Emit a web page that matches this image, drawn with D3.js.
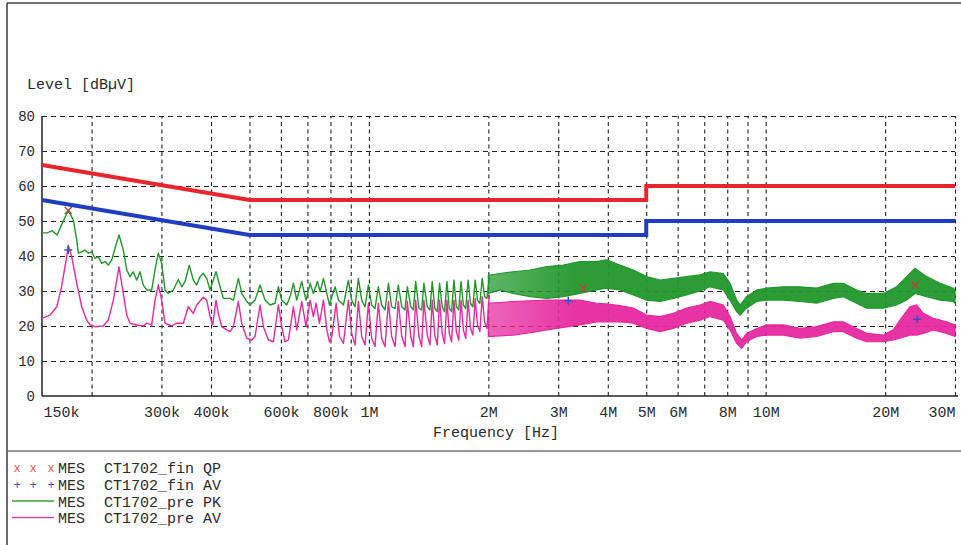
<!DOCTYPE html>
<html><head><meta charset="utf-8">
<script src="https://cdn.jsdelivr.net/npm/d3@7"></script>
<style>
html,body{margin:0;padding:0;background:#fff;}
svg{display:block;}
text{font-family:"Liberation Mono","DejaVu Sans Mono",monospace;fill:#2a2a2a;}
</style></head><body>
<svg id="c" width="961" height="545"></svg>
<script>
// ---------- data ----------
const yTicks = [0,10,20,30,40,50,60,70,80];
const yGrid = [10,20,30,40,50,60,70,80];
const xGridFreqs = [200e3,300e3,400e3,500e3,600e3,700e3,800e3,900e3,1e6,2e6,3e6,4e6,5e6,6e6,7e6,8e6,9e6,10e6,20e6,30e6];
const xLabelFreqs = [150e3,300e3,400e3,600e3,800e3,1e6,2e6,3e6,4e6,5e6,6e6,8e6,10e6,20e6,30e6];
const xLabelTexts = ["150k","300k","400k","600k","800k","1M","2M","3M","4M","5M","6M","8M","10M","20M","30M"];

// limit lines [Hz, dBuV]
const qpLimit = [[150e3,66],[500e3,56],[5e6,56],[5e6,60],[30e6,60]];
const avLimit = [[150e3,56],[500e3,46],[5e6,46],[5e6,50],[30e6,50]];

// pre-scan peak trace, 150 kHz .. 2 MHz  [kHz, dBuV]
const pkTrace = [[150,46.6],[154.4,46.6],[159,47.2],[163.7,46],[168,48.9],[174.7,53],[179.9,50.3],[183.5,44.6],[185.2,40.8],[188.9,41.2],
[192.5,41.7],[196.3,40.8],[200.2,41.2],[204,39.3],[208,39.8],[212.2,37.9],[216.3,38.4],[220.4,37.4],[224.9,38.9],[229.1,42.2],
[234.5,46],[240.4,41.7],[245.3,36],[250,34.1],[254.8,35.5],[259.9,33.1],[264.9,35.5],[270,31.7],[275.4,30.3],[283.5,30.3],
[289,36],[294.6,40.8],[300.5,37.9],[306.3,30.3],[312.2,29.3],[321.4,30.3],[330.9,33.3],[337.5,31.2],[344,32.7],[352.6,37.4],
[360.9,33.1],[368.1,31.7],[375.3,34.1],[382.5,35],[390.2,33.6],[397.7,30.3],[411.8,35.5],[421.5,31.2],[429.6,27.9],
[446.7,27.9],[455.4,27.4],[468.8,33.6],[478,29.3],[492.1,27.0],[501.7,26.0],[516.5,27.4],[531.7,31.7],[547.4,27.4],[563.5,26.0],
[580.1,26.5],[591.4,31.2],[603,27.4],[620.7,26.0],[632.9,28.4],[645.2,32.2],[657.8,27.4],[677.2,32.7],[694.3,27.4],[710.8,32.2],
[724.6,29.3],[741.7,32.7],[753.5,29.8],[768.2,33.6],[783.2,29.3],[795.5,26.0],[806.4,28.4],[822.2,31.2],[838.2,27.4],[862.7,26.0],
[887.7,33.1],[905,27.4],[922.7,25.5],[940.7,33.6],[959.1,27.4],[977.8,25.5],[996.9,31.7],[1016,26.0],[1036,25.0],[1056,31.2],
[1077,26.0],[1098,24.6],[1120,32.2],[1141,25.5],[1164,25.0],[1186,31.7],[1210,25.5],[1233,24.6],[1250,31.2],[1275,25.5],
[1294,24.6],[1312,32.7],[1337,25.0],[1358,24.6],[1376,32.2],[1403,25.5],[1425,24.6],[1444,32.7],[1466,25.0],[1487,24.1],
[1507,32.2],[1530,25.5],[1551,24.1],[1573,32.7],[1594,25.0],[1616,24.1],[1638,33.1],[1661,25.5],[1684,24.6],[1707,32.7],
[1730,26.0],[1754,25.0],[1778,33.1],[1803,26.5],[1828,25.5],[1853,33.1],[1878,27.4],[1904,26.5],[1930,33.6],[1957,28.4],
[1984,27.9],[2011,34.1]];

// pre-scan average trace, 150 kHz .. 2 MHz  [kHz, dBuV]
const avTrace = [[150,22.2],[157.1,23.1],[163.4,25.5],[168,31.2],[173.1,39.8],[174.7,43.1],[178.2,39.8],[183.5,32.2],[188.9,25.5],[194.4,21.7],
[198.2,20.3],[204,19.8],[214.1,20],[220.4,21.7],[226.9,27.4],[234.5,36.9],[240.4,29.3],[245.3,23.1],[250,20.8],[259.9,20.3],
[270,20],[275.4,20.8],[283.5,20.3],[289,27.4],[294.6,31.7],[300.5,27.4],[306.3,20.8],[318.4,20],[327.8,20.8],[340.6,20.8],
[350.6,25.5],[360.9,23.6],[368.1,26],[382.5,28.2],[390.2,27.4],[397.7,22.7],[404,20.3],[411.8,27.4],[417.3,23.6],[425.7,19.8],
[438.2,18.9],[446.7,18.4],[455.4,19.8],[468.8,27.0],[478,20.8],[492.1,16.5],[506.6,16.0],[516.5,17.0],[531.7,26.0],[542.1,19.8],
[558.1,16.0],[574.5,15.5],[591.4,26.0],[603,19.8],[614.7,15.5],[626.8,16.0],[645.2,25.5],[657.8,18.9],[677.2,27.0],[694.3,19.8],
[710.8,27.4],[724.6,22.7],[736,26.5],[750.6,20.8],[768.2,27.4],[783.2,18.9],[795.5,15.5],[806.4,17.0],[826.9,26.5],[843.1,17.0],
[862.7,15.0],[887.7,27.4],[905,17.9],[922.7,14.6],[940.7,27.0],[959.1,17.0],[977.8,14.6],[996.9,26.5],[1016,16.5],[1036,14.1],
[1056,26.5],[1077,16.5],[1098,14.1],[1120,27.0],[1141,17.0],[1164,14.1],[1186,27.0],[1210,17.0],[1233,14.1],[1250,27.0],
[1275,17.0],[1294,14.1],[1312,27.4],[1337,17.0],[1358,14.1],[1376,27.4],[1403,17.4],[1425,14.6],[1444,27.4],[1466,17.4],
[1487,14.6],[1507,27.4],[1530,17.9],[1551,15.0],[1573,27.4],[1594,17.9],[1616,15.5],[1638,27.4],[1661,18.4],[1684,16.0],
[1707,27.4],[1730,18.9],[1754,16.5],[1778,27.4],[1803,19.3],[1828,17.4],[1853,27.9],[1878,20.3],[1904,18.4],[1930,28.4],
[1957,21.2],[1984,19.3],[2011,28.9]];

// dense region 2 MHz .. 30 MHz: envelope [MHz, upper dBuV, lower dBuV]
const pkBand = [[2.0,34.5,29.3],[2.14,35.0,30.3],[2.31,35.5,29.3],[2.55,36.0,28.4],[2.81,37.0,27.9],[3.09,37.4,28.4],[3.40,38.4,29.3],[3.75,38.4,30.3],
[3.97,38.9,30.8],[4.29,37.4,30.3],[4.64,36.0,28.9],[5.01,34.1,27.4],[5.42,33.1,27.0],[5.85,33.6,27.9],[6.32,34.1,28.9],[6.83,34.6,30.0],
[7.24,35.5,31.2],[7.82,35.0,30.3],[8.13,32.2,27.4],[8.45,27.4,24.1],[8.62,26.0,23.1],[8.95,28.4,25.1],[9.49,30.3,27.0],[10.06,30.8,27.4],
[11.08,31.2,27.4],[12.2,31.2,27.0],[13.44,30.8,26.5],[14.81,32.2,27.9],[15.69,32.2,28.4],[16.95,30.3,26.5],[17.97,29.3,25.1],[19.8,29.3,25.1],
[21.38,31.2,26.0],[22.66,34.1,27.4],[23.78,36.5,29.3],[25.45,34.1,28.4],[27.5,32.2,27.4],[29.71,30.8,27.0],[30,30.3,26.5]];
const avBand = [[2.0,26.5,17.0],[2.14,26.7,17.2],[2.31,27.0,17.4],[2.55,27.2,18.1],[2.81,27.4,18.9],[3.09,27.4,19.6],[3.40,27.4,20.3],[3.75,26.5,21.2],
[3.97,26.3,21.2],[4.29,25.8,21.2],[4.64,25.1,20.8],[5.01,23.1,19.3],[5.42,22.7,18.4],[5.85,23.6,19.3],[6.32,25.1,20.8],[6.83,26.0,21.7],
[7.24,27.0,22.7],[7.82,26.0,21.7],[8.13,22.7,18.9],[8.45,17.9,15.0],[8.70,16.0,13.6],[8.95,17.9,15.5],[9.49,19.3,17.0],[10.06,20.3,17.4],
[11.08,20.3,17.4],[12.2,19.3,16.5],[13.44,19.8,17.0],[14.81,21.2,18.4],[15.69,21.2,18.4],[16.95,19.3,16.5],[17.97,17.9,15.5],[19.8,17.4,15.5],
[20.97,18.9,16.0],[21.8,21.7,16.5],[23.1,25.5,17.4],[24.01,26.0,17.4],[24.96,23.6,17.9],[26.45,22.2,18.9],[28.57,21.2,17.9],[30,20.3,17.0]];

// final measurement points
const qpFreq = [174.7e3,3.47e6,23.8e6];
const qpLevel = [53,30.8,31.7];
const avFreq = [174.7e3,3.18e6,24.1e6];
const avLevel = [41.7,27.2,21.9];

// legend
const legendMarks = ["x","+","line","line"];
const legendNames = ["CT1702_fin QP","CT1702_fin AV","CT1702_pre PK","CT1702_pre AV"];

// ---------- drawing ----------
const C = {red:"#e8252d", blue:"#1f3dc2", green:"#21972a", mag:"#e6299f", grid:"#222", frame:"#444"};
const svg = d3.select("#c");
const x = d3.scaleLog().domain([150e3,30e6]).range([42,955]);
const y = d3.scaleLinear().domain([0,80]).range([396,116]);

// band fills: spiky (lighter) near 2-3 MHz, denser above
const defs = svg.append("defs");
function bandGrad(id,color){
  const g = defs.append("linearGradient").attr("id",id).attr("gradientUnits","userSpaceOnUse")
    .attr("x1",x(2e6)).attr("x2",x(30e6)).attr("y1",0).attr("y2",0);
  const span = x(30e6)-x(2e6);
  g.append("stop").attr("offset",0).attr("stop-color",color).attr("stop-opacity",0.72);
  g.append("stop").attr("offset",(x(3.3e6)-x(2e6))/span).attr("stop-color",color).attr("stop-opacity",0.95);
  g.append("stop").attr("offset",1).attr("stop-color",color).attr("stop-opacity",0.95);
}
bandGrad("gpk",C.green); bandGrad("gav",C.mag);

// frame
svg.append("line").attr("x1",7).attr("y1",3).attr("x2",961).attr("y2",3).attr("stroke",C.frame).attr("stroke-width",1.6);
svg.append("line").attr("x1",7).attr("y1",3).attr("x2",7).attr("y2",545).attr("stroke",C.frame).attr("stroke-width",1.6);
svg.append("line").attr("x1",7).attr("y1",451).attr("x2",961).attr("y2",451).attr("stroke","#777").attr("stroke-width",1.6);

// grid
const gx = svg.append("g").attr("transform",`translate(0,${y(0)})`)
  .call(d3.axisBottom(x).tickValues(xGridFreqs).tickSize(-(y(0)-y(80))).tickFormat(""));
gx.select(".domain").remove();
gx.selectAll("line").attr("stroke",C.grid).attr("stroke-width",1.1).attr("stroke-dasharray","4,3.5");
const gy = svg.append("g").attr("transform",`translate(${x(150e3)},0)`)
  .call(d3.axisLeft(y).tickValues(yGrid).tickSize(-(x(30e6)-x(150e3))).tickFormat(""));
gy.select(".domain").remove();
gy.selectAll("line").attr("stroke",C.grid).attr("stroke-width",1.1).attr("stroke-dasharray","5,4");

// axis lines
svg.append("line").attr("x1",x(150e3)).attr("x2",x(30e6)+3).attr("y1",y(0)).attr("y2",y(0)).attr("stroke","#222").attr("stroke-width",1.5);
svg.append("line").attr("x1",x(150e3)).attr("x2",x(150e3)).attr("y1",y(0)).attr("y2",y(80)).attr("stroke","#222").attr("stroke-width",1.5);

// tick labels
const ay = svg.append("g").attr("transform",`translate(${x(150e3)},0)`)
  .call(d3.axisLeft(y).tickValues(yTicks).tickSize(0).tickPadding(7));
ay.select(".domain").remove();
ay.selectAll("text").style("font-size","14px").attr("fill","#2a2a2a");
const ax = svg.append("g").attr("transform",`translate(0,${y(0)})`)
  .call(d3.axisBottom(x).tickValues(xLabelFreqs).tickFormat((d,i)=>xLabelTexts[i]).tickSize(0).tickPadding(10));
ax.select(".domain").remove();
ax.selectAll("text").style("font-size","15px").attr("fill","#2a2a2a")
  .attr("text-anchor",(d,i)=> i===0 ? "start" : (i===xLabelTexts.length-1 ? "end" : "middle"))
  .attr("dx",(d,i)=> i===0 ? 1 : 0);

// axis titles
svg.append("text").attr("x",27).attr("y",89).style("font-size","15px").text("Level [dBµV]");
svg.append("text").attr("x",433).attr("y",437).style("font-size","15px").text("Frequency [Hz]");

// limit lines
const lim = d3.line().x(d=>x(d[0])).y(d=>y(d[1]));
svg.append("path").datum(qpLimit).attr("d",lim).attr("fill","none").attr("stroke",C.red).attr("stroke-width",4);
svg.append("path").datum(avLimit).attr("d",lim).attr("fill","none").attr("stroke",C.blue).attr("stroke-width",4);

// traces
const tr = d3.line().x(d=>x(d[0]*1e3)).y(d=>y(d[1]));
const band = d3.area().x(d=>x(d[0]*1e6)).y0(d=>y(d[2])).y1(d=>y(d[1]));
svg.append("path").datum(pkBand).attr("d",band).attr("fill","url(#gpk)").attr("stroke",C.green).attr("stroke-width",1.2);
svg.append("path").datum(pkTrace).attr("d",tr).attr("fill","none").attr("stroke",C.green).attr("stroke-width",1.4).attr("stroke-linejoin","round");
svg.append("path").datum(avBand).attr("d",band).attr("fill","url(#gav)").attr("stroke",C.mag).attr("stroke-width",1.2);
svg.append("path").datum(avTrace).attr("d",tr).attr("fill","none").attr("stroke",C.mag).attr("stroke-width",1.4).attr("stroke-linejoin","round");

// final measurement markers
const xMark = "M-3.5,-3.5L3.5,3.5M-3.5,3.5L3.5,-3.5";
const pMark = "M-4,0H4M0,-4V4";
svg.append("g").selectAll("path").data(qpFreq).join("path")
  .attr("transform",(d,i)=>`translate(${x(d)},${y(qpLevel[i])})`).attr("d",xMark)
  .attr("stroke","#b5473a").attr("stroke-width",1.5).attr("fill","none");
svg.append("g").selectAll("path").data(avFreq).join("path")
  .attr("transform",(d,i)=>`translate(${x(d)},${y(avLevel[i])})`).attr("d",pMark)
  .attr("stroke","#3a4cc4").attr("stroke-width",1.5).attr("fill","none");

// legend
const lg = svg.append("g");
const rowY = [473,490,506.5,523];
legendNames.forEach((name,i)=>{
  const m = legendMarks[i];
  if (m==="line") {
    lg.append("line").attr("x1",12).attr("x2",54).attr("y1",rowY[i]-5.5).attr("y2",rowY[i]-5.5)
      .attr("stroke", i===2 ? "#3a9e3a" : "#c84ca8").attr("stroke-width",1.4);
  } else {
    [17,33,51].forEach(px=>{
      lg.append("text").attr("x",px).attr("y",rowY[i]-1).attr("text-anchor","middle")
        .style("font-size","12px").style("fill", m==="x" ? "#e05a5a" : "#2f55c0").text(m);
    });
  }
  lg.append("text").attr("x",58).attr("y",rowY[i]).style("font-size","15px").text("MES");
  lg.append("text").attr("x",104).attr("y",rowY[i]).style("font-size","15px").text(name);
});
</script>
</body></html>
